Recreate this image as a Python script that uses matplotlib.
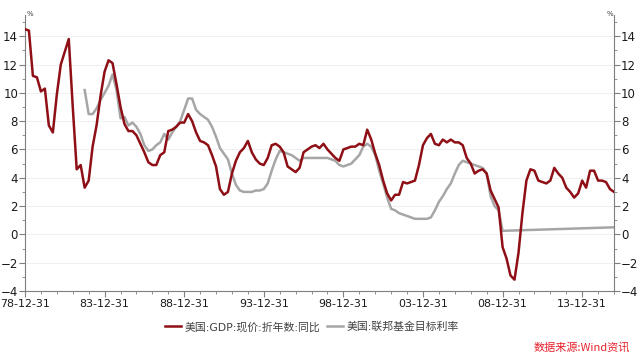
"""
US nominal GDP growth vs. Fed funds target rate
"""
import numpy as np
import pandas as pd
import matplotlib
matplotlib.use("Agg")
import matplotlib.pyplot as plt
import matplotlib.dates as mdates
from matplotlib.ticker import MultipleLocator

plt.rcParams["font.family"] = ["DejaVu Sans", "Noto Sans CJK SC"]

# Quarter ends, 1978-12-31 .. 2015-12-31
quarters = pd.date_range("1978-12-31", "2015-12-31", freq="QE")

# 美国:GDP:现价:折年数:同比 (%)
gdp_yoy = [
    14.5, 14.4, 11.2, 11.1, 10.1, 10.3, 7.7, 7.2, 9.9, 12.0,
    12.9, 13.8, 9.0, 4.6, 4.9, 3.3, 3.8, 6.2, 7.7, 9.8,
    11.5, 12.3, 12.1, 10.6, 9.0, 7.8, 7.3, 7.3, 7.0, 6.4,
    5.8, 5.1, 4.9, 4.9, 5.6, 5.8, 7.3, 7.4, 7.6, 7.9,
    7.9, 8.5, 8.0, 7.2, 6.6, 6.5, 6.3, 5.6, 4.8, 3.2,
    2.8, 3.0, 4.3, 5.2, 5.8, 6.1, 6.6, 5.8, 5.3, 5.0,
    4.9, 5.4, 6.3, 6.4, 6.2, 5.8, 4.8, 4.6, 4.4, 4.7,
    5.8, 6.0, 6.2, 6.3, 6.1, 6.4, 6.0, 5.7, 5.4, 5.2,
    6.0, 6.1, 6.2, 6.2, 6.4, 6.3, 7.4, 6.7, 5.7, 4.9,
    3.8, 2.9, 2.4, 2.8, 2.8, 3.7, 3.6, 3.7, 3.8, 4.9,
    6.3, 6.8, 7.1, 6.4, 6.3, 6.7, 6.5, 6.7, 6.5, 6.5,
    6.3, 5.4, 5.0, 4.3, 4.5, 4.6, 4.3, 3.1, 2.5, 1.9,
    -0.9, -1.7, -2.9, -3.2, -1.3, 1.5, 3.8, 4.6, 4.5, 3.8,
    3.7, 3.6, 3.8, 4.7, 4.3, 4.0, 3.3, 3.0, 2.6, 2.9,
    3.8, 3.3, 4.5, 4.5, 3.8, 3.8, 3.7, 3.2, 3.0,
]

# 美国:联邦基金目标利率 (%), starts 1982Q3; no values 2009Q1-2015Q3
fed_target = [np.nan] * 15 + [
    10.2, 8.5, 8.5, 8.9, 9.5, 10.0, 10.5, 11.3, 10.2, 8.2,
    8.3, 7.7, 7.9, 7.6, 7.1, 6.3, 5.9, 6.0, 6.3, 6.5,
    7.1, 6.7, 7.2, 7.6, 8.0, 8.8, 9.6, 9.6, 8.8, 8.5,
    8.3, 8.1, 7.6, 6.9, 6.1, 5.7, 5.3, 4.3, 3.5, 3.1,
    3.0, 3.0, 3.0, 3.1, 3.1, 3.2, 3.6, 4.5, 5.3, 5.9,
    5.8, 5.7, 5.6, 5.4, 5.2, 5.4, 5.4, 5.4, 5.4, 5.4,
    5.4, 5.4, 5.3, 5.2, 4.9, 4.8, 4.9, 5.0, 5.3, 5.6,
    6.2, 6.4, 6.2, 5.6, 4.5, 3.6, 2.6, 1.8, 1.7, 1.5,
    1.4, 1.3, 1.2, 1.1, 1.1, 1.1, 1.1, 1.2, 1.7, 2.3,
    2.7, 3.2, 3.6, 4.3, 4.9, 5.2, 5.1, 5.0, 4.9, 4.8,
    4.7, 4.3, 2.7, 2.0, 1.7, 0.25,
] + [np.nan] * 27 + [0.5]

year_ticks = pd.date_range("1978-12-31", "2013-12-31", freq="5YE")

RED = "#8e0f15"
GREY = "#a6a6a6"
AXIS = "#7f7f7f"

fig = plt.figure(figsize=(6.4, 3.59), dpi=100)
ax = fig.add_axes([25 / 640, 1 - 291 / 359, 589 / 640, 276 / 359])

df = pd.DataFrame({"gdp": gdp_yoy, "fed": fed_target}, index=quarters)
fed = df["fed"].dropna()

ax.plot(df.index, df["gdp"], color=RED, lw=1.8, label="美国:GDP:现价:折年数:同比", zorder=3)
ax.plot(fed.index, fed.values, color=GREY, lw=1.8, label="美国:联邦基金目标利率", zorder=2)

ax.set_xlim(quarters[0], quarters[-1])
ax.set_ylim(-4, 15.5)

# y axes on both sides
ax.yaxis.set_major_locator(MultipleLocator(2))
ax.yaxis.set_minor_locator(MultipleLocator(1))
ax.tick_params(axis="y", which="both", left=True, right=True,
               labelleft=True, labelright=True, direction="out",
               colors=AXIS, labelcolor="#1a1a1a", labelsize=8.5, pad=1)
ax.tick_params(axis="y", which="major", length=4)
ax.tick_params(axis="y", which="minor", length=2)
ax.grid(axis="y", which="major", color="#f0f0f0", lw=0.8, zorder=0)

# x axis
ax.set_xticks(year_ticks)
ax.xaxis.set_major_formatter(mdates.DateFormatter("%y-%m-%d"))
ax.xaxis.set_minor_locator(mdates.MonthLocator(bymonth=12, bymonthday=31))
ax.tick_params(axis="x", which="both", direction="out", colors=AXIS,
               labelcolor="#1a1a1a", labelsize=7.9, pad=2)
ax.tick_params(axis="x", which="major", length=4)
ax.tick_params(axis="x", which="minor", length=2)

for side in ("left", "right", "bottom"):
    ax.spines[side].set_color(AXIS)
    ax.spines[side].set_linewidth(0.8)
ax.spines["top"].set_visible(False)

fig.text(27 / 640, 1 - 14 / 359, "%", fontsize=5, color="#404040", va="center")
fig.text(607 / 640, 1 - 14 / 359, "%", fontsize=5, color="#404040", va="center")

fig.legend(loc="center", bbox_to_anchor=(312 / 640, 1 - 327 / 359), ncol=2,
           frameon=False, fontsize=7.8, handlelength=1.5, handletextpad=0.3,
           columnspacing=0.6, labelcolor="#404040")

fig.text(630 / 640, 1 - 347 / 359, "数据来源:Wind资讯", color="#e8212b",
         fontsize=8, style="italic", ha="right", va="center",
         family=["Noto Sans CJK SC", "DejaVu Sans"])

fig.savefig("out.png", dpi=100)
